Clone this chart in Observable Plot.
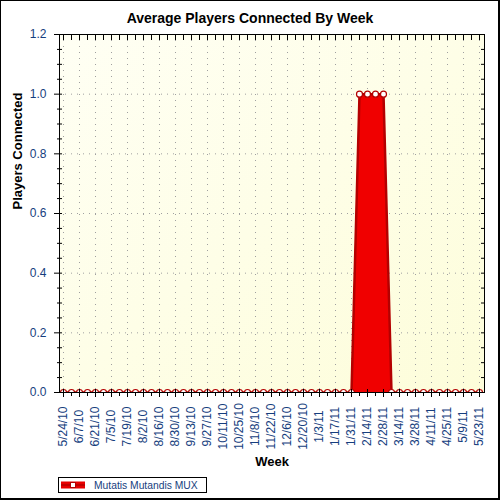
<!DOCTYPE html>
<html>
<head>
<meta charset="utf-8">
<script src="https://cdn.jsdelivr.net/npm/d3@7"></script>
<script src="https://cdn.jsdelivr.net/npm/@observablehq/plot@0.6"></script>
<style>
  body { margin: 0; background: #fff; }
  #wrap { position: relative; width: 500px; height: 500px; overflow: hidden; background: #fff;
          font-family: "Liberation Sans", Arial, sans-serif; }
  #chart { position: absolute; left: 0; top: 0; }
  #border { position: absolute; left: 0; top: 0; width: 500px; height: 500px; box-sizing: border-box;
            border-style: solid; border-color: #000; border-width: 1px 2px 2px 1px; pointer-events: none; }
  #title { position: absolute; left: 0; top: 10px; width: 500px; text-align: center;
           font-weight: bold; font-size: 14px; line-height: 16px; color: #000; }
  #legend { position: absolute; left: 58px; top: 477px; width: 149px; height: 16px; box-sizing: border-box;
            border: 1px solid #000; background: #fff; display: flex; align-items: center; }
  #legend svg { margin-left: 2px; display: block; }
  #legend span { margin-left: 8px; font-size: 10.3px; color: #163e7e; white-space: nowrap; }
</style>
</head>
<body>
<div id="wrap">
  <div id="chart"></div>
  <div id="title">Average Players Connected By Week</div>
  <div id="legend"></div>
  <div id="border"></div>
</div>
<script>
// ---- data ----
const weeks = [
  "5/24/10","5/31/10","6/7/10","6/14/10","6/21/10","6/28/10","7/5/10","7/12/10","7/19/10","7/26/10",
  "8/2/10","8/9/10","8/16/10","8/23/10","8/30/10","9/6/10","9/13/10","9/20/10","9/27/10","10/4/10",
  "10/11/10","10/18/10","10/25/10","11/1/10","11/8/10","11/15/10","11/22/10","11/29/10","12/6/10","12/13/10",
  "12/20/10","12/27/10","1/3/11","1/10/11","1/17/11","1/24/11","1/31/11","2/7/11","2/14/11","2/21/11",
  "2/28/11","3/7/11","3/14/11","3/21/11","3/28/11","4/4/11","4/11/11","4/18/11","4/25/11","5/2/11",
  "5/9/11","5/16/11","5/23/11"
];
const players = [
  0,0,0,0,0,0,0,0,0,0,
  0,0,0,0,0,0,0,0,0,0,
  0,0,0,0,0,0,0,0,0,0,
  0,0,0,0,0,0,0,1,1,1,
  1,0,0,0,0,0,0,0,0,0,
  0,0,0
];
const weekTicks = [
  "5/24/10","6/7/10","6/21/10","7/5/10","7/19/10","8/2/10","8/16/10","8/30/10","9/13/10","9/27/10",
  "10/11/10","10/25/10","11/8/10","11/22/10","12/6/10","12/20/10","1/3/11","1/17/11","1/31/11","2/14/11",
  "2/28/11","3/14/11","3/28/11","4/11/11","4/25/11","5/9/11","5/23/11"
];
const yMajor = [0, 0.2, 0.4, 0.6, 0.8, 1.0, 1.2];
const yMinor = [0.05, 0.1, 0.15, 0.25, 0.3, 0.35, 0.45, 0.5, 0.55, 0.65, 0.7, 0.75, 0.85, 0.9, 0.95, 1.05, 1.1, 1.15];
const seriesName = "Mutatis Mutandis MUX";

// ---- build ----
const data = weeks.map((w, i) => ({week: w, value: players[i]}));
const minorWeeks = weeks.filter(w => !weekTicks.includes(w));
const yAll = yMajor.concat(yMinor);
const labelBlue = "#163e7e";
const fillRed = "#f00000";
const darkRed = "#b40000";

const plot = Plot.plot({
  width: 500,
  height: 500,
  marginLeft: 59,
  marginRight: 16,
  marginTop: 34,
  marginBottom: 108,
  style: {fontFamily: "'Liberation Sans', Arial, sans-serif", fontSize: "12px", background: "transparent", overflow: "visible", color: "#000"},
  x: {type: "point", domain: weeks, padding: 0, insetLeft: 4, insetRight: 5},
  y: {domain: [0, 1.2]},
  marks: [
    Plot.frame({fill: "url(#plotbg)"}),
    Plot.gridY(yMajor, {stroke: "#a0a0a0", strokeOpacity: 1, strokeDasharray: "1,5"}),
    Plot.gridX(weekTicks, {stroke: "#a0a0a0", strokeOpacity: 1, strokeDasharray: "1,5"}),
    Plot.areaY(data, {x: "week", y: "value", fill: fillRed}),
    Plot.lineY(data, {x: "week", y: "value", stroke: darkRed, strokeWidth: 2.5, clip: true}),
    Plot.dot(data, {x: "week", y: "value", r: 3, fill: "white", stroke: darkRed, strokeWidth: 1.2, clip: true}),
    Plot.frame({stroke: "black"}),
    Plot.axisY(yMajor, {anchor: "left", tickSize: 8, dx: 3, fill: "none", label: null, stroke: "black"}),
    Plot.axisY(yMinor, {anchor: "left", tickSize: 5, dx: 3, fill: "none", label: null, stroke: "black"}),
    Plot.axisY(yAll, {anchor: "right", tickSize: 4, dx: -4, fill: "none", label: null, stroke: "black"}),
    Plot.axisX(weeks, {anchor: "top", tickSize: 5, dy: 5, fill: "none", label: null, stroke: "black"}),
    Plot.axisX(weekTicks, {anchor: "bottom", tickSize: 8, dy: -3, fill: "none", label: null, stroke: "black"}),
    Plot.axisX(minorWeeks, {anchor: "bottom", tickSize: 4, fill: "none", label: null, stroke: "black"}),
    Plot.axisY(yMajor, {anchor: "left", tickSize: 0, tickPadding: 13, tickFormat: d => d.toFixed(1), fill: labelBlue, fontSize: 12, label: null}),
    Plot.text(weekTicks, {x: d => d, frameAnchor: "bottom", dy: 34, rotate: -90, textAnchor: "middle", lineAnchor: "middle", fill: labelBlue, fontSize: 12}),
    Plot.text(["Players Connected"], {frameAnchor: "left", dx: -42, dy: -4, rotate: -90, fontWeight: "bold", fontSize: 13, fill: "black"}),
    Plot.text(["Week"], {frameAnchor: "bottom", dy: 73, fontWeight: "bold", fontSize: 13, fill: "black"})
  ]
});

// background gradient for the plot area
const svg = d3.select(plot);
const defs = svg.insert("defs", ":first-child");
const grad = defs.append("linearGradient").attr("id", "plotbg")
  .attr("x1", "0").attr("y1", "0").attr("x2", "1").attr("y2", "1");
grad.append("stop").attr("offset", "0").attr("stop-color", "#fffff4");
grad.append("stop").attr("offset", "1").attr("stop-color", "#fdfdda");

document.getElementById("chart").appendChild(plot);

// legend
const legend = d3.select("#legend");
const sw = legend.append("svg").attr("width", 25).attr("height", 8);
sw.append("rect").attr("x", 0).attr("y", 0.5).attr("width", 24).attr("height", 7).attr("fill", "#e80000");
sw.append("line").attr("x1", 0).attr("x2", 24).attr("y1", 4).attr("y2", 4).attr("stroke", darkRed).attr("stroke-width", 1.5);
sw.append("rect").attr("x", 9.5).attr("y", 1.5).attr("width", 5).attr("height", 5).attr("fill", "white").attr("stroke", darkRed).attr("stroke-width", 1);
legend.append("span").text(seriesName);
</script>
</body>
</html>
